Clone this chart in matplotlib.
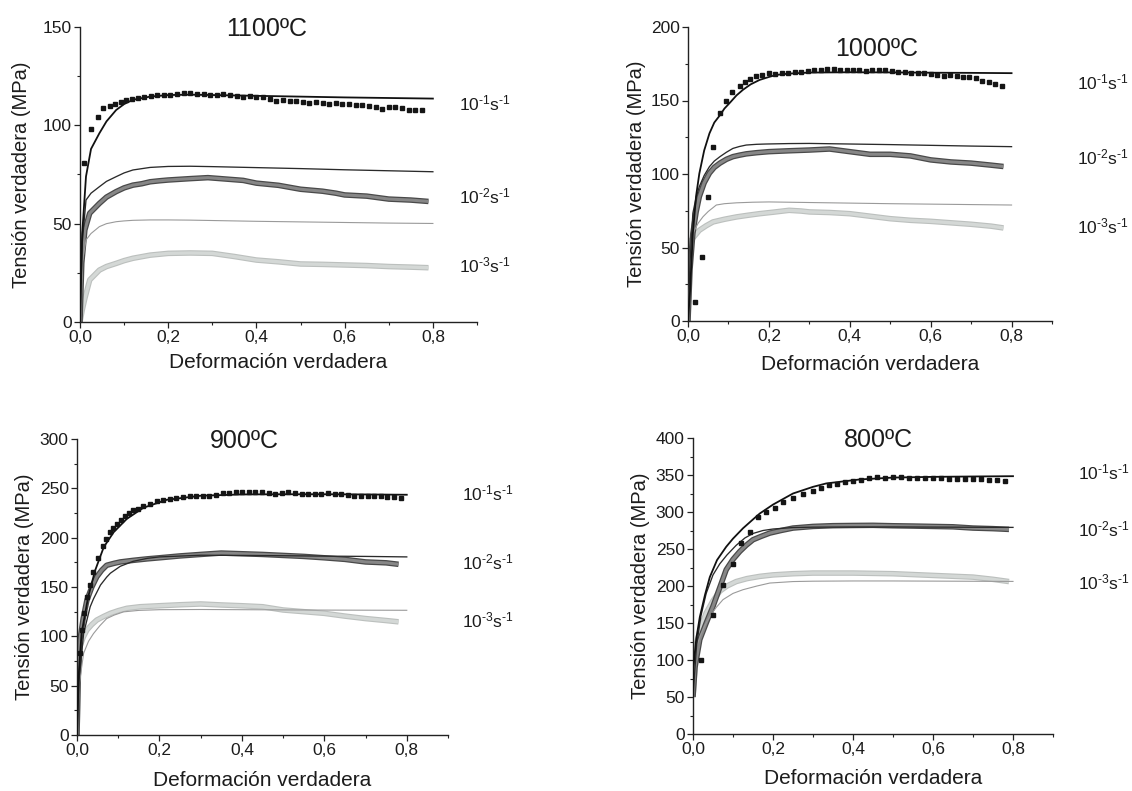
import matplotlib
matplotlib.use("Agg")
import matplotlib.pyplot as plt
from matplotlib.ticker import MultipleLocator, FuncFormatter

plt.rcParams['font.family'] = ['Liberation Sans', 'DejaVu Sans']
plt.rcParams['mathtext.fontset'] = 'custom'
plt.rcParams['mathtext.rm'] = 'Liberation Sans'
plt.rcParams['mathtext.it'] = 'Liberation Sans:italic'

# ---------------- DATA ----------------
titles = ['1100ºC', '1000ºC', '900ºC', '800ºC']
rate_labels = [r'$\mathregular{10^{\text{-}1}s^{\text{-}1}}$',
               r'$\mathregular{10^{\text{-}2}s^{\text{-}1}}$',
               r'$\mathregular{10^{\text{-}3}s^{\text{-}1}}$']
xlabel = 'Deformación verdadera'
ylabel = 'Tensión verdadera (MPa)'
ytops = [150, 200, 300, 400]

# 1100 C
p1_sq_x = [0.009, 0.024, 0.041, 0.053, 0.068, 0.079, 0.092, 0.105, 0.118, 0.131, 0.145, 0.16, 0.175, 0.19,
           0.205, 0.22, 0.235, 0.25, 0.265, 0.28, 0.295, 0.31, 0.325, 0.34, 0.355, 0.37, 0.385, 0.40, 0.415,
           0.43, 0.445, 0.46, 0.475, 0.49, 0.505, 0.52, 0.535, 0.55, 0.565, 0.58, 0.595, 0.61, 0.625, 0.64,
           0.655, 0.67, 0.685, 0.70, 0.715, 0.73, 0.745, 0.76, 0.775]
p1_sq_y = [81, 98, 104.4, 108.6, 109.8, 110.6, 112, 113, 113.5, 114, 114.3, 114.8, 115.5, 115.2, 115.6,
           115.8, 116.3, 116.4, 116, 115.8, 115.5, 115.3, 115.9, 115.4, 115, 114.6, 114.8, 114.6, 114.2,
           113.6, 112.5, 112.8, 112.3, 112.6, 112.1, 111.4, 112, 111.5, 110.9, 111.2, 110.6, 111, 110.4,
           110.2, 109.6, 109.2, 108.5, 109.2, 109.4, 108.9, 108, 107.8, 107.9]
p1_m_x = [0, 0.005, 0.0136, 0.025, 0.044, 0.06, 0.082, 0.10, 0.12, 0.159, 0.2, 0.25, 0.3, 0.4, 0.5, 0.6, 0.7, 0.8]
p1_m1_y = [0, 45, 74, 88, 96, 102, 107.8, 110.8, 113, 114.6, 115.4, 115.6, 115.4, 115, 114.6, 114.2, 113.9, 113.6]
p1_m2_y = [0, 40, 62, 65.5, 68.8, 71.5, 73.9, 75.8, 77.3, 78.6, 79.1, 79.2, 79, 78.5, 78, 77.4, 76.9, 76.4]
p1_m3_y = [0, 30, 41.7, 45, 48.5, 50, 51, 51.4, 51.7, 51.9, 51.9, 51.8, 51.6, 51.2, 50.9, 50.6, 50.3, 50.1]
p1_e2_x = [0, 0.004, 0.011, 0.022, 0.044, 0.06, 0.082, 0.10, 0.12, 0.14, 0.159, 0.18, 0.2, 0.25, 0.29, 0.33,
           0.37, 0.4, 0.45, 0.5, 0.55, 0.58, 0.6, 0.65, 0.7, 0.75, 0.79]
p1_e2_y = [0, 30, 46.8, 55.3, 60.3, 63.5, 66.3, 68.2, 69.6, 70.3, 71.3, 71.8, 72.2, 72.9, 73.4, 72.7, 72.0,
           70.6, 69.5, 67.5, 66.5, 65.5, 64.6, 64.0, 62.5, 62.0, 61.3]
p1_e3_x = [0, 0.005, 0.011, 0.022, 0.044, 0.06, 0.082, 0.10, 0.12, 0.159, 0.2, 0.25, 0.3, 0.35, 0.4, 0.45,
           0.5, 0.55, 0.6, 0.65, 0.7, 0.75, 0.79]
p1_e3_y = [0, 6, 12, 21.4, 26.4, 28.2, 29.8, 31.2, 32.4, 34, 34.9, 35.1, 34.9, 33.3, 31.5, 30.6, 29.5, 29.3,
           29, 28.7, 28.2, 27.9, 27.6]

# 1000 C
p2_sq_x = [0.017, 0.034, 0.050, 0.062, 0.079, 0.093, 0.11, 0.128, 0.14, 0.153, 0.168, 0.184, 0.2, 0.216,
           0.232, 0.248, 0.264, 0.28, 0.296, 0.312, 0.328, 0.344, 0.36, 0.376, 0.392, 0.408, 0.424, 0.44,
           0.456, 0.472, 0.488, 0.504, 0.52, 0.536, 0.552, 0.568, 0.584, 0.6, 0.616, 0.632, 0.648, 0.664,
           0.68, 0.696, 0.712, 0.728, 0.744, 0.76, 0.776]
p2_sq_y = [13.1, 43.8, 84.6, 118.6, 141.4, 150, 155.7, 159.8, 162.5, 164.8, 166.5, 167.5, 168.6, 168.3,
           168.5, 168.8, 169.5, 169.6, 170.2, 170.8, 171, 171.7, 171.2, 170.6, 170.5, 171, 170.5, 170.2,
           171, 170.5, 170.8, 170.4, 169.4, 169.2, 168.6, 168.8, 168.6, 167.8, 167.4, 167, 167.5, 166.5,
           165.9, 165.7, 165, 163.5, 162.5, 161.5, 160]
p2_m1_x = [0, 0.005, 0.012, 0.02, 0.028, 0.04, 0.053, 0.065, 0.079, 0.09, 0.104, 0.12, 0.136, 0.155, 0.177,
           0.2, 0.218, 0.25, 0.3, 0.4, 0.5, 0.6, 0.7, 0.8]
p2_m1_y = [0, 20, 59.6, 85, 100.3, 116, 127.6, 135, 140, 144.5, 148.6, 153.5, 157.3, 161, 164, 166, 167.4,
           168.3, 169, 169.2, 169.1, 168.9, 168.8, 168.6]
p2_m2_x = [0, 0.005, 0.012, 0.02, 0.028, 0.04, 0.053, 0.065, 0.079, 0.095, 0.111, 0.127, 0.144, 0.17, 0.193,
           0.25, 0.3, 0.4, 0.5, 0.6, 0.7, 0.8]
p2_m2_y = [0, 40, 73.3, 84, 91.4, 99, 105, 108.8, 111.8, 114.8, 117.4, 118.7, 119.7, 120.2, 120.4, 120.7,
           120.8, 120.4, 120, 119.5, 119, 118.6]
p2_e2_x = [0, 0.005, 0.012, 0.02, 0.028, 0.04, 0.053, 0.065, 0.079, 0.095, 0.111, 0.127, 0.144, 0.17, 0.2,
           0.25, 0.3, 0.35, 0.4, 0.45, 0.5, 0.55, 0.6, 0.65, 0.7, 0.75, 0.78]
p2_e2_y = [0, 35, 59.6, 74, 84.6, 94, 100.6, 104.5, 107.4, 110, 111.8, 112.8, 113.7, 114.5, 115.2, 115.8,
           116.3, 117, 115.2, 113.4, 113.4, 112.3, 109.6, 108.2, 107.4, 106, 105.1]
p2_m3_x = [0, 0.005, 0.012, 0.025, 0.037, 0.05, 0.07, 0.09, 0.12, 0.16, 0.2, 0.3, 0.4, 0.5, 0.6, 0.7, 0.8]
p2_m3_y = [0, 35, 59.6, 66.5, 70.9, 74.5, 78.9, 79.8, 80.4, 80.8, 81, 80.6, 80.2, 79.8, 79.5, 79.2, 78.9]
p2_e3_x = [0, 0.003, 0.008, 0.028, 0.045, 0.062, 0.09, 0.12, 0.15, 0.177, 0.21, 0.25, 0.28, 0.3, 0.35, 0.4,
           0.45, 0.5, 0.55, 0.6, 0.65, 0.7, 0.75, 0.78]
p2_e3_y = [0, 35, 55, 61.7, 64.8, 67.4, 69.2, 70.8, 72, 73, 74, 75.3, 74.8, 74.2, 73.8, 73, 71.3, 69.6,
           68.5, 67.8, 66.8, 65.8, 64.5, 63.3]

# 900 C
p3_sq_x = [0.007, 0.011, 0.018, 0.025, 0.032, 0.040, 0.051, 0.062, 0.071, 0.079, 0.087, 0.096, 0.106, 0.116,
           0.126, 0.136, 0.148, 0.161, 0.177, 0.193, 0.209, 0.225, 0.241, 0.257, 0.273, 0.289, 0.305, 0.321,
           0.337, 0.353, 0.369, 0.385, 0.401, 0.417, 0.433, 0.449, 0.465, 0.481, 0.497, 0.513, 0.529, 0.545,
           0.561, 0.577, 0.593, 0.609, 0.625, 0.641, 0.657, 0.673, 0.689, 0.705, 0.721, 0.737, 0.753, 0.769,
           0.785]
p3_sq_y = [82.8, 106, 124, 139.8, 152, 165, 179, 191.4, 199, 205.6, 210, 214, 218, 221.5, 224.5, 227.6,
           229.5, 231.6, 234.5, 237, 238.2, 239.2, 239.8, 241, 242, 242.5, 242.4, 242, 243.6, 245, 245.5,
           246, 246.2, 245.8, 246.5, 246.4, 245, 244.5, 245.5, 245.8, 245.4, 244.5, 244.2, 244.5, 244.6,
           244.8, 244.3, 244.6, 243.5, 242.4, 242.2, 242.6, 242, 242, 241.5, 241, 240.5]
p3_m1_x = [0, 0.004, 0.011, 0.027, 0.044, 0.065, 0.089, 0.121, 0.161, 0.218, 0.3, 0.4, 0.5, 0.6, 0.7, 0.8]
p3_m1_y = [0, 60, 102.8, 139.8, 166.8, 190.5, 205.6, 219.1, 230.3, 238.4, 242.5, 243.8, 244, 244, 243.8, 243.5]
p3_m2_x = [0, 0.005, 0.016, 0.032, 0.04, 0.057, 0.072, 0.081, 0.105, 0.136, 0.17, 0.2, 0.3, 0.4, 0.5, 0.6,
           0.7, 0.8]
p3_m2_y = [0, 55, 102.8, 130, 138, 152, 160, 164, 171, 176, 179, 180.5, 182.2, 182, 181.7, 181.3, 181, 180.5]
p3_e2_x = [0, 0.003, 0.007, 0.015, 0.024, 0.036, 0.048, 0.06, 0.072, 0.09, 0.105, 0.136, 0.17, 0.2, 0.25,
           0.3, 0.35, 0.4, 0.45, 0.5, 0.55, 0.6, 0.65, 0.7, 0.75, 0.78]
p3_e2_y = [0, 60, 96, 118, 136.6, 150, 160.3, 167, 172, 174, 175.4, 177, 178.5, 179.6, 181.5, 183, 184.4,
           183.7, 183, 182, 181, 179.6, 178, 175.4, 174.5, 173]
p3_m3_x = [0, 0.005, 0.016, 0.028, 0.04, 0.056, 0.072, 0.09, 0.113, 0.15, 0.2, 0.3, 0.4, 0.5, 0.6, 0.7, 0.8]
p3_m3_y = [0, 50, 82.8, 95, 102.8, 111, 118, 121.5, 124.8, 126.3, 127, 127.2, 127, 126.8, 126.6, 126.5, 126.4]
p3_e3_x = [0, 0.003, 0.007, 0.015, 0.024, 0.036, 0.048, 0.064, 0.081, 0.1, 0.121, 0.153, 0.2, 0.25, 0.3,
           0.35, 0.4, 0.45, 0.5, 0.55, 0.6, 0.65, 0.7, 0.75, 0.78]
p3_e3_y = [0, 55, 89.5, 99, 106.4, 112, 116.5, 120, 123.3, 126, 128.4, 130, 131, 132, 132.8, 131.8, 131,
           130, 126.7, 125, 123.3, 120.5, 118, 116, 114.7]

# 800 C
p4_sq_x = [0.021, 0.05, 0.075, 0.1, 0.121, 0.142, 0.163, 0.183, 0.204, 0.225, 0.25, 0.275, 0.3, 0.32, 0.34,
           0.36, 0.38, 0.40, 0.42, 0.44, 0.46, 0.48, 0.50, 0.52, 0.54, 0.56, 0.58, 0.60, 0.62, 0.64, 0.66,
           0.68, 0.70, 0.72, 0.74, 0.76, 0.78]
p4_sq_y = [100, 160.6, 201, 230, 258, 273, 293, 299.6, 306, 313, 319, 325, 329, 332, 336, 338, 340, 342,
           343.5, 345.5, 347, 346.5, 347, 347.5, 346.5, 345.5, 346.5, 346, 346.5, 345, 344.5, 344.5, 344,
           344, 343.5, 343, 342.4]
p4_m1_x = [0, 0.001, 0.008, 0.017, 0.03, 0.042, 0.06, 0.083, 0.1, 0.125, 0.15, 0.167, 0.2, 0.25, 0.3, 0.333,
           0.417, 0.5, 0.6, 0.7, 0.8]
p4_m1_y = [50, 91, 128, 158, 188, 212, 235, 253, 264, 278, 290, 298, 310, 325, 334, 338.6, 344, 346.5,
           347.5, 348, 348.4]
p4_m2_x = [0, 0.009, 0.02, 0.033, 0.05, 0.067, 0.085, 0.108, 0.13, 0.15, 0.175, 0.2, 0.25, 0.3, 0.4, 0.5,
           0.6, 0.7, 0.8]
p4_m2_y = [50, 120, 160, 190, 215, 230, 242, 255, 265, 271, 275, 277, 279, 279.5, 279.8, 279.8, 279.6,
           279.4, 279.2]
p4_e2_x = [0, 0.005, 0.017, 0.033, 0.05, 0.067, 0.083, 0.1, 0.117, 0.133, 0.15, 0.17, 0.192, 0.22, 0.25,
           0.3, 0.35, 0.4, 0.45, 0.5, 0.55, 0.6, 0.65, 0.7, 0.75, 0.79]
p4_e2_y = [50, 90, 127.6, 150, 172.6, 198, 222, 236, 246.7, 255, 262.5, 267, 271.5, 275, 278.3, 280.5,
           281.5, 281.8, 282, 281.4, 281, 280.5, 280, 278.3, 277.5, 276.5]
p4_m3_x = [0, 0.009, 0.02, 0.03, 0.042, 0.058, 0.075, 0.1, 0.125, 0.16, 0.192, 0.25, 0.3, 0.4, 0.5, 0.6,
           0.7, 0.8]
p4_m3_y = [50, 118.6, 135, 147, 159, 171, 181.6, 190, 195, 200, 204, 206, 206.5, 206.8, 206.8, 206.6,
           206.4, 206.2]
p4_e3_x = [0, 0.009, 0.02, 0.033, 0.05, 0.067, 0.085, 0.108, 0.135, 0.167, 0.2, 0.25, 0.3, 0.4, 0.5, 0.6,
           0.7, 0.75, 0.79]
p4_e3_y = [50, 123, 145, 163.6, 180, 193, 200, 206, 210, 213, 215, 216.6, 217.5, 217.5, 216.6, 214.3, 212,
           209, 206]

# label anchor values (x strain, y stress) per panel for the three rates
lab_x = [0.86, 0.962, 0.933, 0.962]
lab_y = [[111, 63.6, 29], [162, 111, 64], [245, 175, 116.5], [354, 276, 205]]
title_xy = [(0.424, 149), (0.467, 185), (0.405, 298), (0.4625, 397)]

panels = [
    dict(sq=(p1_sq_x, p1_sq_y), m1=(p1_m_x, p1_m1_y), m2=(p1_m_x, p1_m2_y), m3=(p1_m_x, p1_m3_y),
         e2=(p1_e2_x, p1_e2_y), e3=(p1_e3_x, p1_e3_y)),
    dict(sq=(p2_sq_x, p2_sq_y), m1=(p2_m1_x, p2_m1_y), m2=(p2_m2_x, p2_m2_y), m3=(p2_m3_x, p2_m3_y),
         e2=(p2_e2_x, p2_e2_y), e3=(p2_e3_x, p2_e3_y)),
    dict(sq=(p3_sq_x, p3_sq_y), m1=(p3_m1_x, p3_m1_y), m2=(p3_m2_x, p3_m2_y), m3=(p3_m3_x, p3_m3_y),
         e2=(p3_e2_x, p3_e2_y), e3=(p3_e3_x, p3_e3_y)),
    dict(sq=(p4_sq_x, p4_sq_y), m1=(p4_m1_x, p4_m1_y), m2=(p4_m2_x, p4_m2_y), m3=(p4_m3_x, p4_m3_y),
         e2=(p4_e2_x, p4_e2_y), e3=(p4_e3_x, p4_e3_y)),
]

# ---------------- LAYOUT (pixels) ----------------
W, H = 1132, 791
# left, right, top, bottom of each axes in pixels
boxes = [(80, 477, 27, 322), (688, 1052, 27, 321), (77, 448, 439, 735), (693, 1053, 438, 734)]
ylab_off = [58, 51, 52, 53]
xlab_off = [40, 44, 45, 44]

fig = plt.figure(figsize=(W / 100, H / 100), dpi=100)
txt = '#1c1c1c'

for i, (bx, pdata) in enumerate(zip(boxes, panels)):
    l, r, t, b = bx
    ax = fig.add_axes([l / W, 1 - b / H, (r - l) / W, (b - t) / H])
    # experimental bands
    ax.plot(*pdata['e3'], color='#bcc0be', lw=4.0, solid_capstyle='butt', zorder=2)
    ax.plot(*pdata['e3'], color='#d4d8d6', lw=2.4, solid_capstyle='butt', zorder=2)
    ax.plot(*pdata['e2'], color='#4a4a4a', lw=4.0, solid_capstyle='butt', zorder=2)
    ax.plot(*pdata['e2'], color='#878787', lw=2.2, solid_capstyle='butt', zorder=2)
    # model lines
    ax.plot(*pdata['m3'], color='#9a9a9a', lw=0.8, zorder=3)
    ax.plot(*pdata['m2'], color='#2a2a2a', lw=0.95, zorder=3)
    ax.plot(*pdata['m1'], color='#111111', lw=1.3, zorder=3)
    # squares
    ax.plot(*pdata['sq'], ls='none', marker='s', ms=3.5, color='#151515', mec='#151515', zorder=4)

    ax.set_xlim(0, 0.9)
    ax.set_ylim(0, ytops[i])
    ax.xaxis.set_major_locator(MultipleLocator(0.2))
    ax.xaxis.set_minor_locator(MultipleLocator(0.1))
    ax.yaxis.set_major_locator(MultipleLocator(50))
    ax.yaxis.set_minor_locator(MultipleLocator(25))
    ax.xaxis.set_major_formatter(FuncFormatter(lambda v, p: f"{v:.1f}".replace('.', ',')))
    for s in ['top', 'right']:
        ax.spines[s].set_visible(False)
    for s in ['left', 'bottom']:
        ax.spines[s].set_linewidth(1.0)
        ax.spines[s].set_color('#222222')
    ax.tick_params(which='major', direction='out', length=4, width=0.9, colors='#222222',
                   labelsize=12.5, labelcolor=txt, pad=2)
    ax.tick_params(which='minor', direction='out', length=2.5, width=0.8, colors='#222222')

    ax.set_xlabel(xlabel, fontsize=15, color=txt, va='center')
    ax.set_ylabel(ylabel, fontsize=14.5, color=txt, va='center')
    ax.xaxis.set_label_coords(0.5, -xlab_off[i] / (b - t))
    ax.yaxis.set_label_coords(-ylab_off[i] / (r - l), 0.5)

    ax.text(title_xy[i][0], title_xy[i][1], titles[i], fontsize=18, color=txt,
            ha='center', va='center')
    for k in range(3):
        ax.text(lab_x[i], lab_y[i][k], rate_labels[k], fontsize=12.5, color=txt,
                ha='left', va='center', clip_on=False)

fig.savefig('out.png', dpi=100)
